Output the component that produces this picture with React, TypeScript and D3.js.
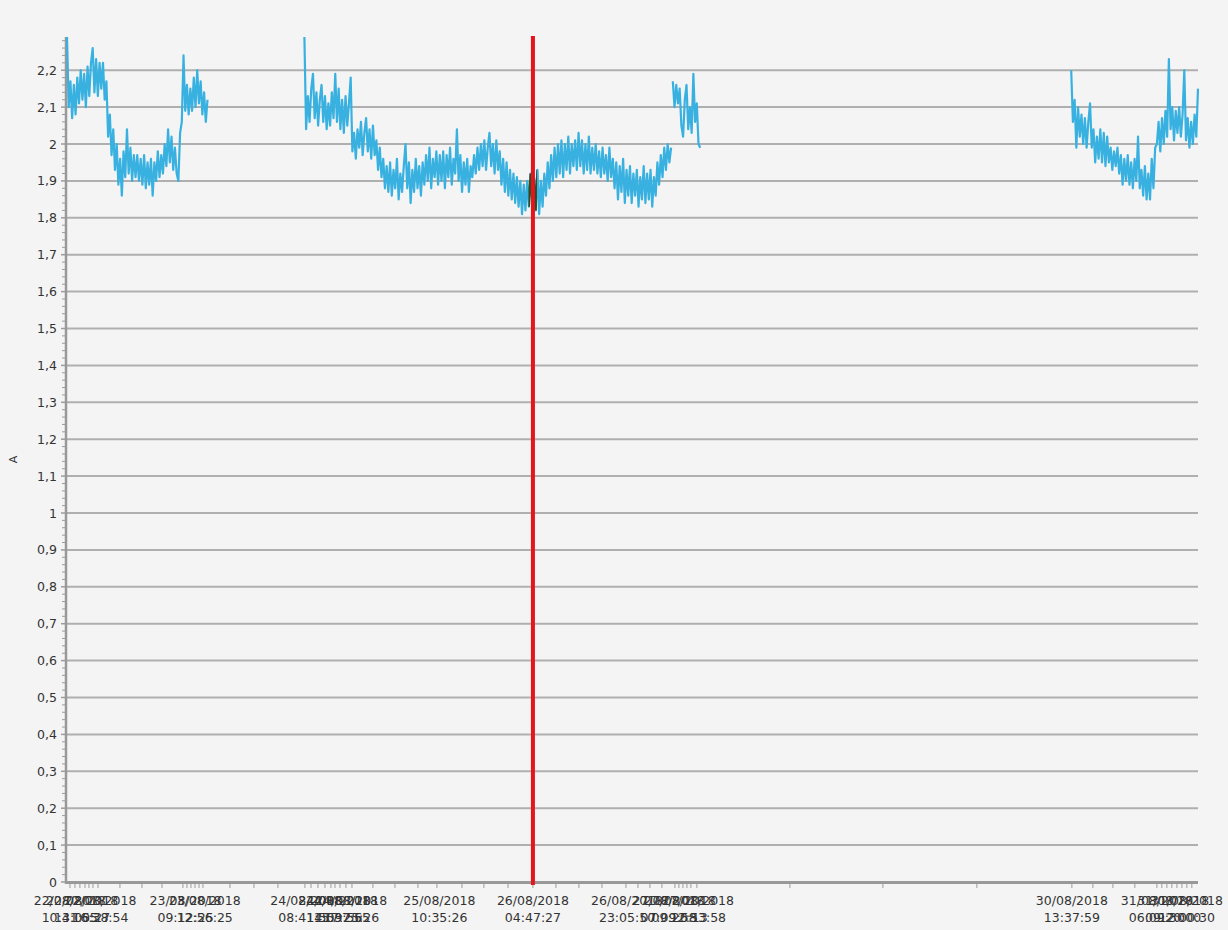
import React from 'react';
import * as d3 from 'd3';

// ---------- DATA ----------
const sampleMinutes = 20;

const seg1Start = '22/08/2018 10:09:00';
const seg1Values = [
  2.29, 2.10, 2.17, 2.07, 2.16, 2.08, 2.18, 2.11, 2.20, 2.12,
  2.19, 2.10, 2.21, 2.13, 2.22, 2.26, 2.14, 2.23, 2.13, 2.22,
  2.15, 2.22, 2.12, 2.17, 2.02, 2.08, 1.97, 2.04, 1.93, 2.00,
  1.89, 1.96, 1.86, 1.98, 1.91, 2.04, 1.92, 1.99, 1.90, 1.97,
  1.91, 1.97, 1.90, 1.96, 1.89, 1.97, 1.88, 1.95, 1.89, 1.96,
  1.86, 1.95, 1.90, 1.98, 1.91, 1.97, 1.92, 2.00, 1.94, 2.04,
  1.95, 2.02, 1.93, 1.99, 1.92, 1.90, 2.03, 2.06, 2.24, 2.09,
  2.16, 2.08, 2.15, 2.09, 2.18, 2.10, 2.20, 2.11, 2.17, 2.08,
  2.14, 2.06, 2.12,
];

const seg2Start = '24/08/2018 08:20:00';
const seg2Values = [
  2.29, 2.04, 2.13, 2.06, 2.15, 2.19, 2.07, 2.14, 2.05, 2.12,
  2.16, 2.06, 2.13, 2.04, 2.11, 2.05, 2.14, 2.07, 2.19, 2.06,
  2.15, 2.04, 2.12, 2.03, 2.13, 2.05, 2.11, 2.18, 1.98, 2.03,
  1.96, 2.04, 1.99, 2.06, 1.97, 2.03, 2.07, 1.98, 2.04, 1.96,
  2.05, 1.97, 2.01, 1.93, 1.99, 1.91, 1.96, 1.88, 1.94, 1.87,
  1.95, 1.86, 1.93, 1.88, 1.96, 1.85, 1.92, 1.87, 1.94, 2.00,
  1.88, 1.95, 1.84, 1.93, 1.87, 1.96, 1.88, 1.94, 1.86, 1.95,
  1.89, 1.97, 1.90, 1.99, 1.88, 1.96, 1.91, 1.98, 1.89, 1.97,
  1.90, 1.98, 1.88, 1.97, 1.91, 1.99, 1.89, 1.96, 1.92, 2.04,
  1.90, 1.97, 1.87, 1.95, 1.89, 1.96, 1.87, 1.94, 1.91, 1.97,
  1.92, 1.99, 1.93, 2.00, 1.94, 2.01, 1.93, 1.99, 2.03, 1.94,
  2.00, 1.92, 2.01, 1.93, 1.98, 1.89, 1.96, 1.87, 1.95, 1.86,
  1.93, 1.85, 1.92, 1.84, 1.91, 1.83, 1.90, 1.81, 1.89, 1.82,
  1.90, 1.83, 1.92, 1.84, 1.91, 1.82, 1.93, 1.81, 1.90, 1.83,
  1.92, 1.86, 1.95, 1.88, 1.97, 1.90, 1.99, 1.91, 2.00, 1.92,
  2.01, 1.91, 2.00, 1.93, 2.02, 1.92, 2.00, 1.94, 2.01, 1.93,
  2.03, 1.94, 2.01, 1.92, 2.00, 1.93, 2.02, 1.92, 1.99, 1.93,
  2.00, 1.92, 1.98, 1.91, 1.99, 1.92, 1.97, 1.90, 1.99, 1.91,
  1.96, 1.88, 1.95, 1.85, 1.94, 1.87, 1.96, 1.84, 1.93, 1.86,
  1.94, 1.84, 1.92, 1.86, 1.93, 1.83, 1.91, 1.85, 1.94, 1.84,
  1.92, 1.85, 1.93, 1.83, 1.91, 1.86, 1.95, 1.89, 1.97, 1.91,
  1.99, 1.93, 2.00, 1.95, 1.99,
];

const seg3Start = '27/08/2018 08:00:00';
const seg3Values = [
  2.17, 2.10, 2.16, 2.11, 2.15, 2.05, 2.02, 2.12, 2.16, 2.04,
  2.10, 2.03, 2.19, 2.06, 2.11, 2.00, 1.99,
];

const seg4Start = '30/08/2018 13:30:00';
const seg4Values = [
  2.20, 2.06, 2.12, 1.99, 2.10, 2.02, 2.08, 2.00, 2.07, 1.99,
  2.06, 2.11, 1.99, 2.04, 1.95, 2.02, 1.96, 2.04, 1.95, 2.03,
  1.94, 2.02, 1.95, 1.99, 1.93, 1.98, 1.94, 1.99, 1.92, 1.97,
  1.89, 1.96, 1.90, 1.97, 1.89, 1.95, 1.88, 1.96, 1.90, 2.02,
  1.88, 1.93, 1.86, 1.94, 1.85, 1.92, 1.85, 1.96, 1.88, 1.99,
  2.00, 2.06, 1.98, 2.07, 2.00, 2.09, 2.02, 2.23, 2.04, 2.10,
  2.01, 2.09, 2.03, 2.10, 2.02, 2.08, 2.20, 2.01, 2.07, 1.99,
  2.06, 2.00, 2.08, 2.02, 2.15,
];

const cursorTime = '26/08/2018 04:47:27';

const xLabelTimes = [
  '22/08/2018 10:41:05', '22/08/2018 13:05:27', '22/08/2018 16:38:54',
  '23/08/2018 09:12:25', '23/08/2018 12:56:25',
  '24/08/2018 08:41:55', '24/08/2018 14:09:56', '24/08/2018 15:37:55', '24/08/2018 17:25:26',
  '25/08/2018 10:35:26',
  '26/08/2018 04:47:27',
  '26/08/2018 23:05:50',
  '27/08/2018 07:09:58', '27/08/2018 09:20:13', '27/08/2018 12:53:58',
  '30/08/2018 13:37:59',
  '31/08/2018 06:09:30', '31/08/2018 09:20:00', '31/08/2018 12:00:30',
];

const xTickTimes = [
  '22/08/2018 10:44', '22/08/2018 11:42', '22/08/2018 12:40', '22/08/2018 13:39',
  '22/08/2018 14:25', '22/08/2018 15:12', '22/08/2018 16:11', '22/08/2018 20:27',
  '23/08/2018 00:44', '23/08/2018 04:38', '23/08/2018 08:42', '23/08/2018 09:29',
  '23/08/2018 10:16', '23/08/2018 11:03', '23/08/2018 11:50', '23/08/2018 12:36',
  '23/08/2018 17:51', '23/08/2018 22:31', '24/08/2018 03:11', '24/08/2018 08:26',
  '24/08/2018 09:37', '24/08/2018 10:58', '24/08/2018 12:20', '24/08/2018 13:30',
  '24/08/2018 14:17', '24/08/2018 15:15', '24/08/2018 16:25', '24/08/2018 17:35',
  '24/08/2018 21:40', '25/08/2018 01:57', '25/08/2018 06:25', '25/08/2018 10:07',
  '25/08/2018 14:59', '25/08/2018 19:15', '25/08/2018 23:56', '26/08/2018 04:47',
  '26/08/2018 09:16', '26/08/2018 13:44', '26/08/2018 18:13', '26/08/2018 22:53',
  '27/08/2018 01:13', '27/08/2018 03:33', '27/08/2018 05:53', '27/08/2018 08:25',
  '27/08/2018 09:11', '27/08/2018 09:58', '27/08/2018 10:45', '27/08/2018 11:31',
  '27/08/2018 12:41', '28/08/2018 06:47', '29/08/2018 00:52', '29/08/2018 19:09',
  '30/08/2018 13:38', '30/08/2018 17:43', '30/08/2018 21:37', '31/08/2018 01:53',
  '31/08/2018 06:10', '31/08/2018 07:08', '31/08/2018 08:07', '31/08/2018 09:05',
  '31/08/2018 10:04', '31/08/2018 11:02', '31/08/2018 12:00', '31/08/2018 12:58',
];

const yTickValues = [
  0, 0.1, 0.2, 0.3, 0.4, 0.5, 0.6, 0.7, 0.8, 0.9, 1,
  1.1, 1.2, 1.3, 1.4, 1.5, 1.6, 1.7, 1.8, 1.9, 2, 2.1, 2.2,
];
const yMinorStep = 0.02;
const yAxisTitle = 'A';

// ---------- LAYOUT ----------
const W = 1228;
const H = 930;
const M = { left: 67, right: 1198, top: 37, bottom: 882 };

const parseSec = d3.timeParse('%d/%m/%Y %H:%M:%S');
const parseMin = d3.timeParse('%d/%m/%Y %H:%M');
const fmtDate = d3.timeFormat('%d/%m/%Y');
const fmtTime = d3.timeFormat('%H:%M:%S');

type P = { t: Date; v: number };

const segments: P[][] = [
  [seg1Start, seg1Values],
  [seg2Start, seg2Values],
  [seg3Start, seg3Values],
  [seg4Start, seg4Values],
].map(([s, vals]) => {
  const start = parseSec(s as string)!.getTime();
  return (vals as number[]).map((v, i) => ({
    t: new Date(start + i * sampleMinutes * 60000),
    v,
  }));
});

const allPts = segments.flat();

export default function App() {
  const x = d3
    .scaleTime()
    .domain(d3.extent(allPts, (d) => d.t) as [Date, Date])
    .range([M.left, M.right]);
  const yMax = d3.max(allPts, (d) => d.v) as number;
  const y = d3.scaleLinear().domain([0, yMax]).range([M.bottom, M.top]);

  const line = d3
    .line<P>()
    .x((d) => x(d.t))
    .y((d) => y(d.v));

  const minor = d3.range(0, yMax + 1e-9, yMinorStep).filter(
    (v) => Math.abs(v * 10 - Math.round(v * 10)) > 1e-6
  );
  const cursorX = x(parseSec(cursorTime)!);
  const font = "'DejaVu Sans', Verdana, sans-serif";
  const fmtY = (v: number) => String(Math.round(v * 10) / 10).replace('.', ',');

  return (
    <svg
      width={W}
      height={H}
      style={{ position: 'absolute', left: 0, top: 0, display: 'block' }}
      fontFamily={font}
    >
      <defs>
        <clipPath id="hl">
          <rect x={cursorX - 4.5} y={M.top} width={8.5} height={M.bottom - M.top} />
        </clipPath>
      </defs>
      <rect x={0} y={0} width={W} height={H} fill="#f4f4f4" />

      {/* grid */}
      {yTickValues
        .filter((v) => v > 0)
        .map((v) => (
          <line
            key={'g' + v}
            x1={M.left}
            x2={M.right}
            y1={y(v)}
            y2={y(v)}
            stroke="#afafaf"
            strokeWidth={2}
          />
        ))}

      {/* y axis */}
      {minor.map((v) => (
        <line key={'m' + v} x1={62} x2={65} y1={y(v)} y2={y(v)} stroke="#9c9c9c" strokeWidth={1} />
      ))}
      {yTickValues.map((v) => (
        <g key={'y' + v}>
          <line x1={61} x2={66} y1={y(v)} y2={y(v)} stroke="#9c9c9c" strokeWidth={1.5} />
          <text
            x={57}
            y={y(v)}
            dy="0.36em"
            textAnchor="end"
            fontSize={12.5}
            fill="#333"
          >
            {fmtY(v)}
          </text>
        </g>
      ))}
      <line x1={66} x2={66} y1={M.top} y2={M.bottom + 2} stroke="#999" strokeWidth={2.5} />
      <text
        transform={`translate(17,${(M.top + M.bottom) / 2}) rotate(-90)`}
        textAnchor="middle"
        fontSize={11}
        fill="#333"
      >
        {yAxisTitle}
      </text>

      {/* x axis */}
      {xTickTimes.map((s) => {
        const xx = x(parseMin(s)!);
        return <line key={'t' + s} x1={xx} x2={xx} y1={883} y2={888} stroke="#9c9c9c" strokeWidth={1} />;
      })}
      <line x1={M.left - 1} x2={M.right} y1={M.bottom + 0.5} y2={M.bottom + 0.5} stroke="#999" strokeWidth={3} />
      {xLabelTimes.map((s) => {
        const d = parseSec(s)!;
        const xx = x(d);
        return (
          <g key={'l' + s} fontSize={12.5} fill="#333" textAnchor="middle">
            <text x={xx} y={905}>{fmtDate(d)}</text>
            <text x={xx} y={922}>{fmtTime(d)}</text>
          </g>
        );
      })}

      {/* series */}
      {segments.map((seg, i) => (
        <path key={'s' + i} d={line(seg) || ''} fill="none" stroke="#38b1e1" strokeWidth={2.2} strokeLinejoin="round" />
      ))}
      <g clipPath="url(#hl)">
        {segments.map((seg, i) => (
          <path key={'h' + i} d={line(seg) || ''} fill="none" stroke="#2a4d24" strokeWidth={2.2} />
        ))}
      </g>

      {/* cursor */}
      <line x1={cursorX} x2={cursorX} y1={M.top - 1} y2={M.bottom + 3} stroke="#e8141b" strokeWidth={4} />
    </svg>
  );
}
